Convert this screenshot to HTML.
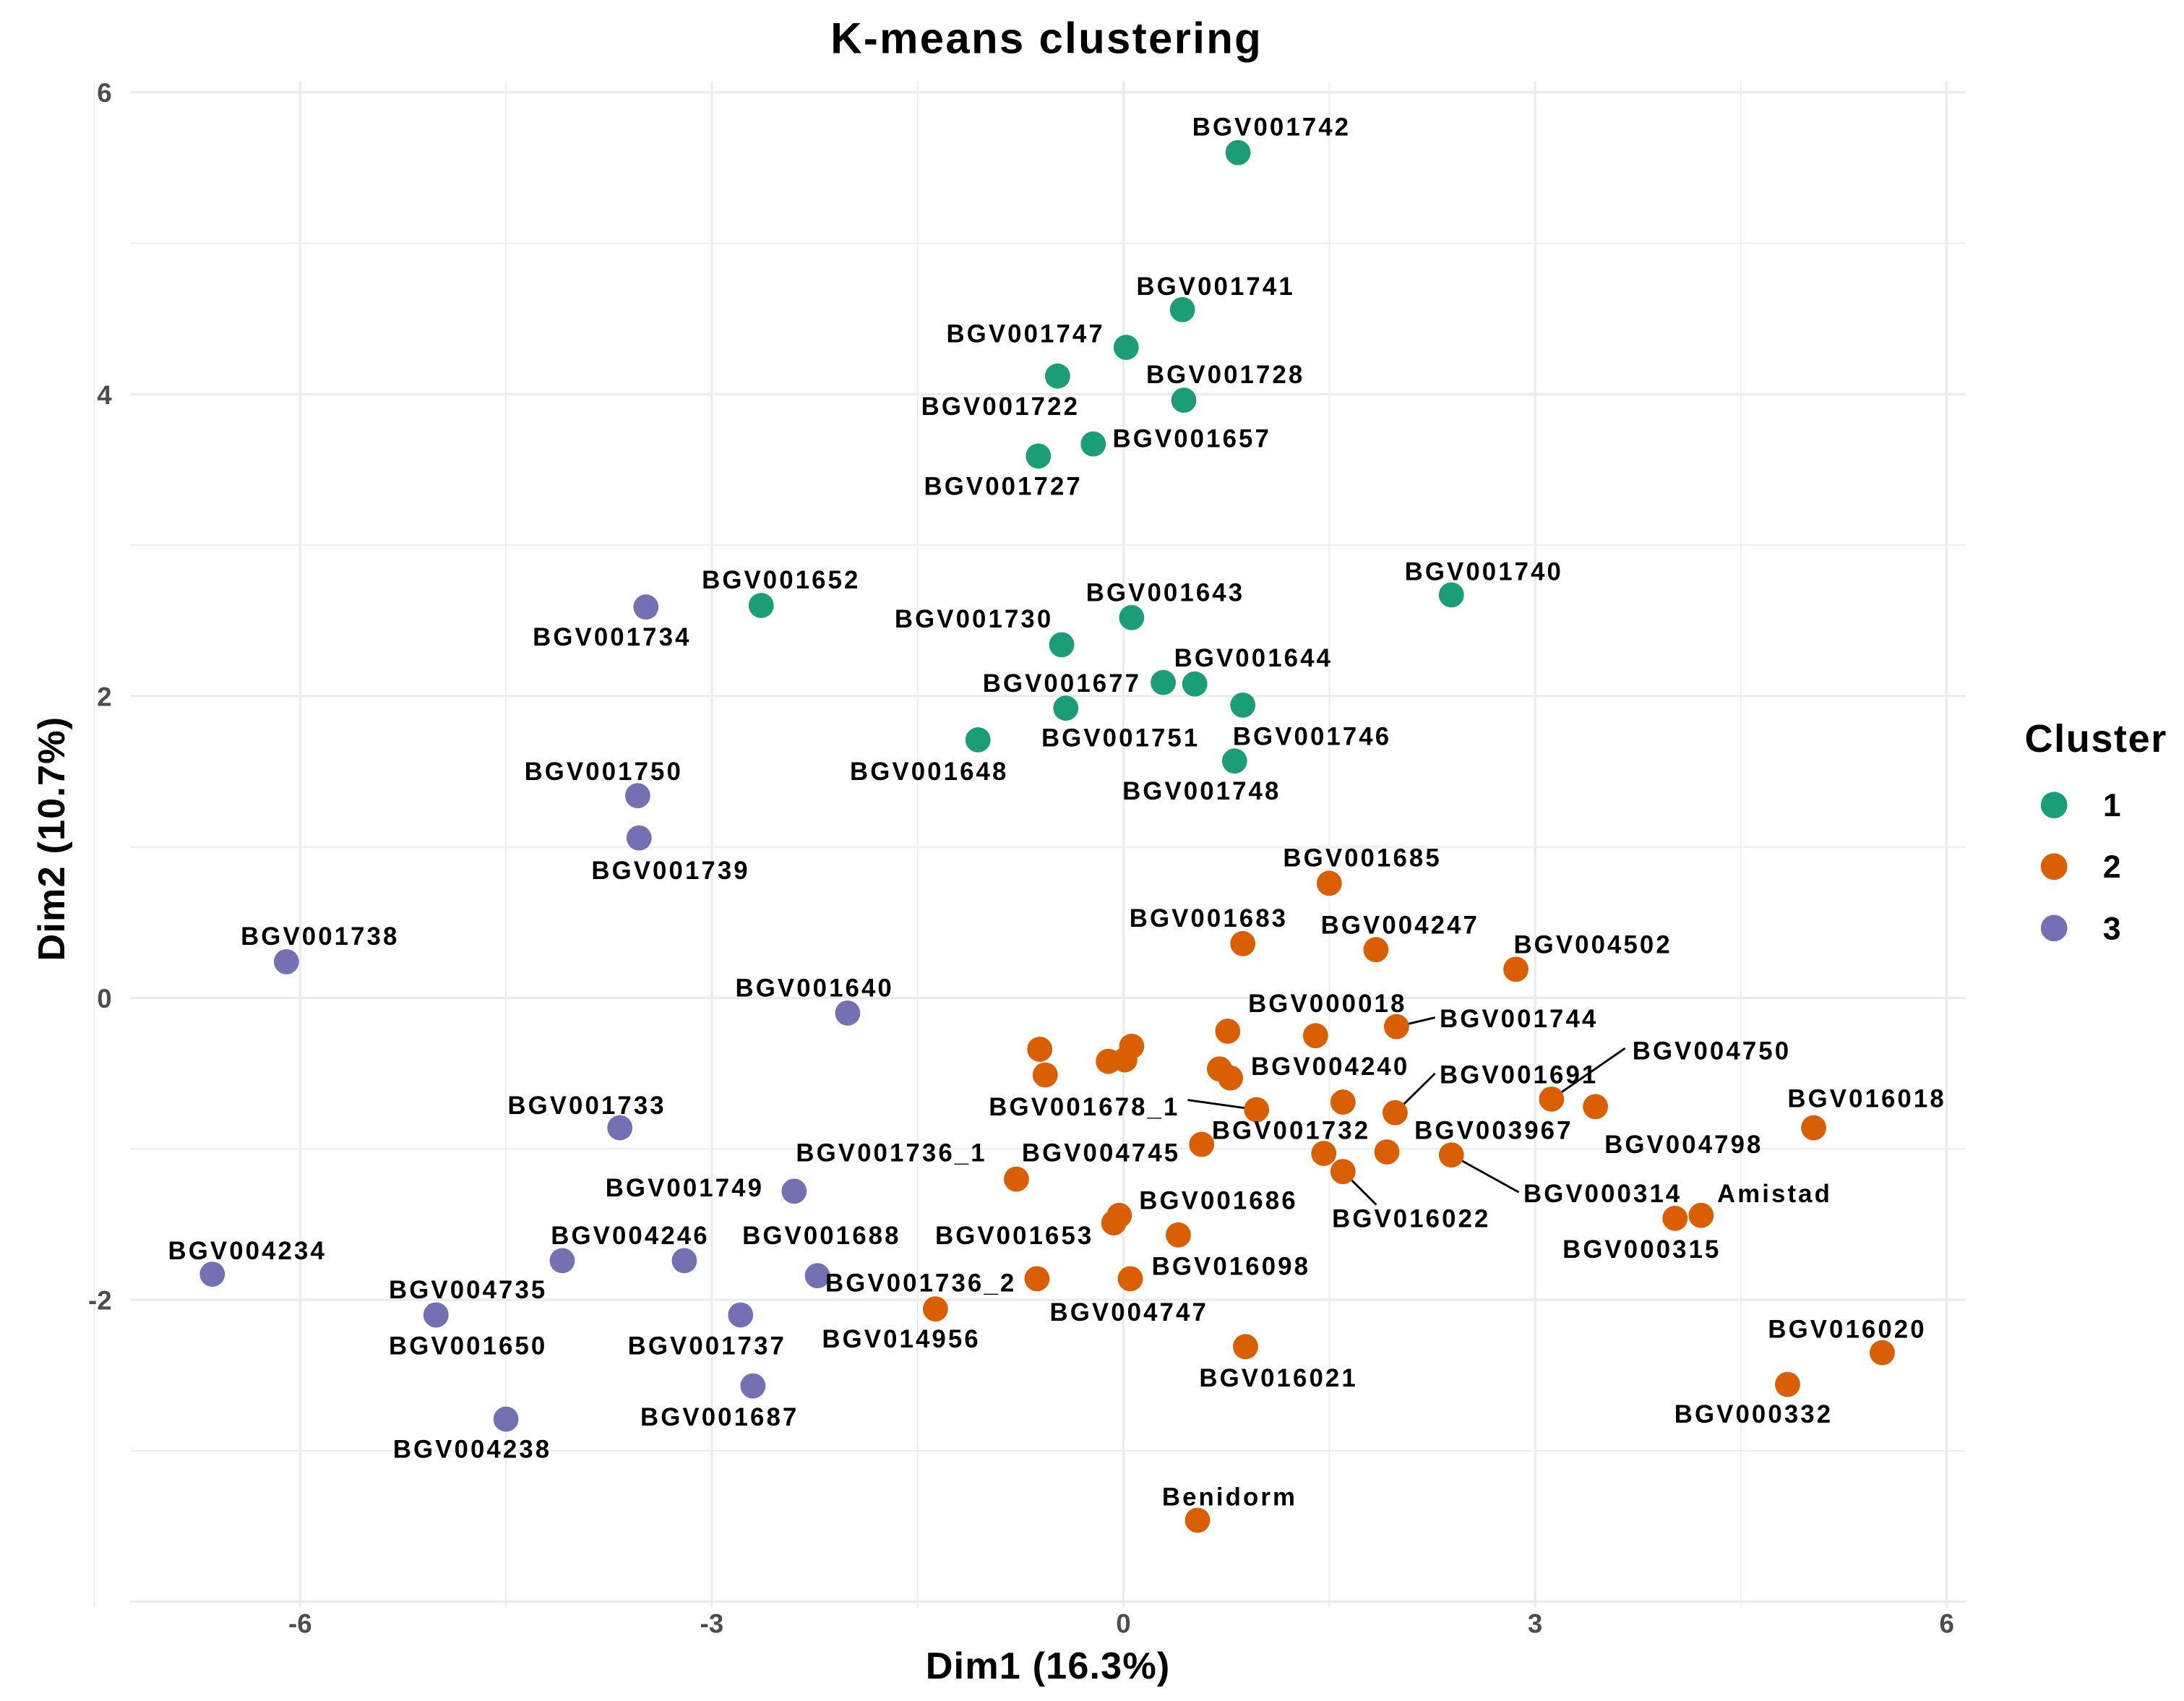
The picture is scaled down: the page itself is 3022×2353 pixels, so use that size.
<!DOCTYPE html>
<html><head><meta charset="utf-8"><style>
html,body{margin:0;padding:0;background:#fff}
svg{display:block}
text{font-family:"Liberation Sans",Arial,sans-serif}
</style></head><body>
<svg id="chart" width="3022" height="2353" viewBox="0 0 1563 1217" preserveAspectRatio="none" xmlns="http://www.w3.org/2000/svg">
<text x="749" y="38" text-anchor="middle" font-size="31" font-weight="bold" letter-spacing="1.2">K-means clustering</text>
<g id="grid"></g>
<g id="ticks"></g>
<g id="lines"></g>
<g id="pts"></g>
<g id="labs"></g>
<text x="750" y="1201" text-anchor="middle" font-size="27" font-weight="bold" letter-spacing="0.6">Dim1 (16.3%)</text>
<text transform="translate(46,600) rotate(-90)" text-anchor="middle" font-size="27" font-weight="bold" letter-spacing="0.6">Dim2 (10.7%)</text>
<g>
<text x="1500" y="538" text-anchor="middle" font-size="28" font-weight="bold" letter-spacing="0.8">Cluster</text>
<g id="leg"></g>
</g>
</svg>
<script>
const xTicks=[-6,-3,0,3,6];
const yTicks=[6,4,2,0,-2];
const clusterIds=["1","2","3"];
const colors=["#1B9E77","#D95F02","#7570B3"];
const names=["BGV001742","BGV001741","BGV001747","BGV001722","BGV001728","BGV001657","BGV001727","BGV001652","BGV001643","BGV001740","BGV001730","BGV001677","BGV001644","BGV001751","BGV001746","BGV001648","BGV001748",
"BGV001734","BGV001750","BGV001739","BGV001738","BGV001640","BGV001733","BGV001749","BGV004234","BGV004246","BGV001688","BGV001736_2","BGV004735","BGV001650","BGV001737","BGV001687","BGV004238",
"BGV001685","BGV001683","BGV004247","BGV004502","","","","","BGV000018","","BGV001744","BGV004240","","","BGV001678_1","BGV001691","BGV004750","BGV004798","BGV016018","BGV004745","BGV001732","BGV003967","BGV000314","BGV016022","BGV001736_1","BGV001653","BGV004747","BGV001686","BGV000315","Amistad","BGV014956","BGV016098","","BGV016021","BGV016020","BGV000332","Benidorm","BGV001736"];
const dim1=[0.835,0.43,0.02,-0.48,0.44,-0.22,-0.62,-2.64,0.06,2.39,-0.45,0.29,0.52,-0.42,0.87,-1.06,0.81,
-3.48,-3.54,-3.53,-6.10,-2.01,-3.67,-2.40,-6.64,-4.09,-3.20,-2.23,-5.01,-5.01,-2.79,-2.70,-4.50,
1.50,0.87,1.84,2.86,-0.61,-0.57,-0.11,0.01,1.40,0.06,1.99,0.70,0.78,0.76,0.97,1.98,3.12,3.44,5.03,0.57,1.46,1.92,2.39,1.60,-0.78,-0.03,-0.07,0.40,4.02,4.21,-0.63,0.05,1.60,0.89,5.53,4.84,0.54,-1.37];
const dim2=[5.60,4.56,4.31,4.12,3.96,3.67,3.59,2.60,2.52,2.67,2.34,2.09,2.08,1.92,1.94,1.71,1.57,
2.59,1.34,1.06,0.24,-0.10,-0.86,-1.28,-1.83,-1.74,-1.74,-1.84,-2.10,-2.10,-2.10,-2.57,-2.79,
0.76,0.36,0.32,0.19,-0.34,-0.51,-0.42,-0.41,-0.25,-0.32,-0.19,-0.47,-0.53,-0.22,-0.74,-0.76,-0.67,-0.72,-0.86,-0.97,-1.03,-1.02,-1.04,-1.15,-1.20,-1.44,-1.49,-1.57,-1.46,-1.44,-1.86,-1.86,-0.69,-2.31,-2.35,-2.56,-3.46,-2.06];
const cluster=[0,0,0,0,0,0,0,0,0,0,0,0,0,0,0,0,0, 2,2,2,2,2,2,2,2,2,2,2,2,2,2,2,2,
1,1,1,1,1,1,1,1,1,1,1,1,1,1,1,1,1,1,1,1,1,1,1,1,1,1,1,1,1,1,1,1,1,1,1,1,1,1];
const labelPos={"BGV001742":[910,96],"BGV001741":[870,210],"BGV001747":[734,244],"BGV001722":[716,296],"BGV001728":[877,273],"BGV001657":[853,319],"BGV001727":[718,353],"BGV001652":[559,420],"BGV001643":[834,429],"BGV001740":[1062,414],"BGV001730":[697,448],"BGV001677":[760,494],"BGV001644":[897,476],"BGV001751":[802,533],"BGV001746":[939,532],"BGV001648":[665,557],"BGV001748":[860,571],
"BGV001734":[438,461],"BGV001750":[432,557],"BGV001739":[480,628],"BGV001738":[229,675],"BGV001640":[583,712],"BGV001733":[420,796],"BGV001749":[490,855],"BGV004234":[177,900],"BGV004246":[451,889],"BGV001688":[588,889],"BGV001736_2":[659,923],"BGV004735":[335,928],"BGV001650":[335,968],"BGV001737":[506,968],"BGV001687":[515,1019],"BGV004238":[338,1042],
"BGV001685":[975,619],"BGV001683":[865,662],"BGV004247":[1002,667],"BGV004502":[1140,681],"BGV000018":[950,723],"BGV001744":[1087,734],"BGV004240":[952,768],"BGV001678_1":[776,797],"BGV001691":[1087,774],"BGV004750":[1225,757],"BGV004798":[1205,824],"BGV016018":[1336,791],"BGV004745":[788,830],"BGV001732":[924,814],"BGV003967":[1069,814],"BGV000314":[1147,859],"BGV016022":[1010,877],"BGV001736_1":[638,830],"BGV001653":[726,889],"BGV004747":[808,944],"BGV001686":[872,864],"BGV000315":[1175,899],"Amistad":[1270,859],"BGV014956":[645,963],"BGV016098":[881,911],"BGV016021":[915,991],"BGV016020":[1322,956],"BGV000332":[1255,1017],"Benidorm":[880,1076]};
const leaders={"BGV001744":[1027,728],"BGV004750":[1163,750],"BGV001691":[1027,768],"BGV001678_1":[850,787],"BGV000314":[1087,853],"BGV016022":[985,862]};

const NS="http://www.w3.org/2000/svg";
const sx=v=>804+98.2*v, sy=v=>714-108*v;
function mk(tag,attrs,parent){const e=document.createElementNS(NS,tag);for(const k in attrs)e.setAttribute(k,attrs[k]);parent.appendChild(e);return e;}
const grid=document.getElementById('grid'),ticks=document.getElementById('ticks');
for(let v=-7.5;v<=6.01;v+=1.5){const l=mk('line',{x1:sx(v),x2:sx(v),y1:58,y2:1150,stroke:'#ebebeb','stroke-width':(v%3===0)?1.6:0.9},grid);

}
for(let v=-4;v<=6.01;v+=1){const l=mk('line',{x1:93,x2:1407,y1:sy(v),y2:sy(v),stroke:'#ebebeb','stroke-width':(v%2===0)?1.6:0.9},grid);

}
xTicks.forEach(v=>{const t=mk('text',{x:sx(v),y:1168,'text-anchor':'middle','font-size':19,'font-weight':'bold',fill:'#4d4d4d'},ticks);t.textContent=v;

});
yTicks.forEach(v=>{const t=mk('text',{x:80,y:sy(v)+7,'text-anchor':'end','font-size':19,'font-weight':'bold',fill:'#4d4d4d'},ticks);t.textContent=v;

});
const pts=document.getElementById('pts'),labs=document.getElementById('labs'),lines=document.getElementById('lines');
dim1.forEach((x,i)=>{const c=mk('circle',{cx:sx(x),cy:sy(dim2[i]),r:9,fill:colors[cluster[i]]},pts);


const n=names[i];
if(n&&labelPos[n]){const p=labelPos[n];
if(leaders[n]){const l=mk('line',{x1:sx(x),y1:sy(dim2[i]),x2:leaders[n][0],y2:leaders[n][1],stroke:'#000','stroke-width':1.5},lines);

}
const t=mk('text',{x:p[0],y:p[1]+1,'text-anchor':'middle','font-size':18,'font-weight':'bold','letter-spacing':1.6,fill:'#000'},labs);t.textContent=n;

}});
const leg=document.getElementById('leg');
clusterIds.forEach((c,i)=>{const y=576+44*i;
const d=mk('circle',{cx:1470,cy:y,r:9.5,fill:colors[i]},leg);


const t=mk('text',{x:1505,y:y+8,'font-size':23,'font-weight':'bold'},leg);t.textContent=c;

});
</script>
</body></html>
